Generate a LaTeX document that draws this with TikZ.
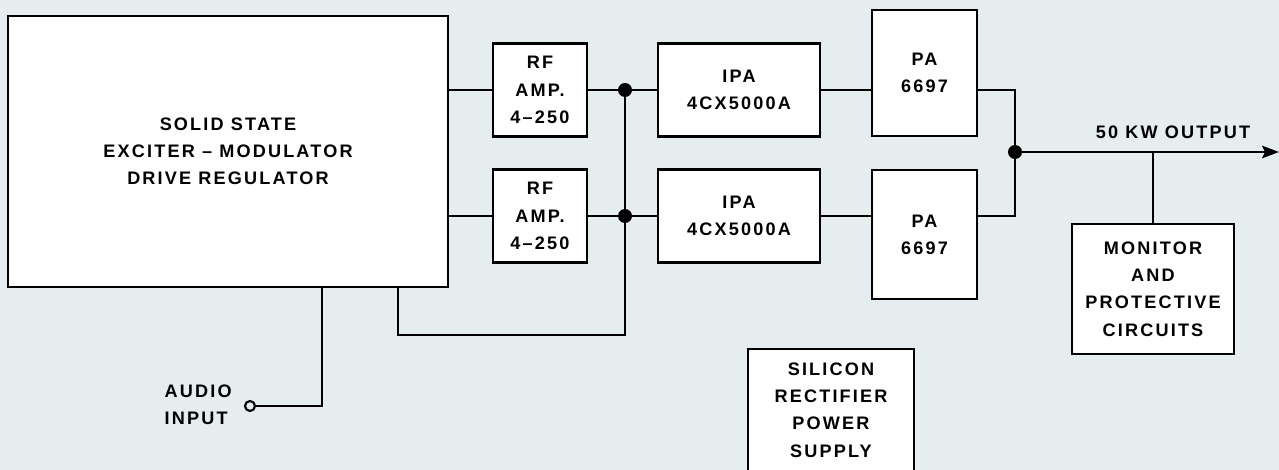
\documentclass[tikz,border=0pt]{standalone}
\usepackage{fontspec}
\newfontfamily\lettering[LetterSpace=12]{Liberation Sans}
\usetikzlibrary{positioning, arrows.meta}
\definecolor{paper}{HTML}{E5EDEF}

\begin{document}
\begin{tikzpicture}[x=0.02cm, y=-0.02cm,
  blk/.style={draw, fill=white, line width=1.2pt, align=center, inner sep=0pt,
              font=\lettering\bfseries\fontsize{10.3}{15.5}\selectfont},
  lbl/.style={inner sep=0pt, align=left, font=\lettering\bfseries\fontsize{10.3}{15.5}\selectfont},
  wire/.style={line width=1.2pt},
  dot/.style={circle, fill, inner sep=0pt, minimum size=2.8mm},
  jack/.style={circle, draw, fill=paper, line width=1.2pt, inner sep=0pt, minimum size=2mm},
  arr/.style={-{Stealth[length=3.4mm, width=2.5mm, inset=0.6mm]}}
]
  \fill[paper] (0,0) rectangle (1279,470);
  \clip (0,0) rectangle (1279,470);

  \node[blk, minimum width=8.8cm, minimum height=5.42cm] (exc) at (228,151.5)
    {SOLID STATE\\EXCITER – MODULATOR\\DRIVE REGULATOR};
  \node[blk, minimum width=1.88cm, minimum height=1.86cm] (rf1) at (540,90) {RF\\AMP.\\4–250};
  \node[blk, minimum width=1.88cm, minimum height=1.86cm] (rf2) at (540,216) {RF\\AMP.\\4–250};
  \node[blk, minimum width=3.24cm, minimum height=1.86cm] (ipa1) at (739,90) {IPA\\4CX5000A};
  \node[blk, minimum width=3.24cm, minimum height=1.86cm] (ipa2) at (739,216) {IPA\\4CX5000A};
  \node[blk, minimum width=2.1cm, minimum height=2.52cm] (pa1) at (924.5,73) {PA\\6697};
  \node[blk, minimum width=2.1cm, minimum height=2.58cm] (pa2) at (924.5,234.5) {PA\\6697};
  \node[blk, minimum width=3.24cm, minimum height=2.6cm] (mon) at (1153,289)
    {MONITOR\\AND\\PROTECTIVE\\CIRCUITS};
  \node[blk, minimum width=3.32cm, minimum height=2.45cm] (sup) at (831,410)
    {SILICON\\RECTIFIER\\POWER\\SUPPLY};

  \node[dot] (j1) at (625,90) {};
  \node[dot] (j2) at (625,216) {};
  \node[dot] (jo) at (1015,152) {};
  \node[jack] (ain) at (250,406) {};
  \coordinate (out) at (1279,152);
  \coordinate (fb) at (398,335);
  \coordinate (atap) at (322,406);

  \node[lbl, anchor=east] (ainlbl) at (232,405) {AUDIO\\INPUT};
  \node[lbl] (outlbl) at (1173,132) {50 KW OUTPUT};

  \draw[wire] (exc.east |- rf1) -- (rf1);
  \draw[wire] (exc.east |- rf2) -- (rf2);
  \draw[wire] (rf1) -- (j1) -- (ipa1);
  \draw[wire] (rf2) -- (j2) -- (ipa2);
  \draw[wire] (ipa1) -- (ipa1 -| pa1.west);
  \draw[wire] (ipa2) -- (ipa2 -| pa2.west);
  \draw[wire] (pa1.east |- ipa1) -| (jo) |- (pa2.east |- ipa2);
  \draw[wire, arr] (jo) -- (out);
  \draw[wire] (mon) -- (mon.north |- jo);
  \draw[wire] (exc.south -| fb) -- (fb) -| (j1);
  \draw[wire] (exc.south -| atap) -- (atap) -- (ain);
\end{tikzpicture}
\end{document}
